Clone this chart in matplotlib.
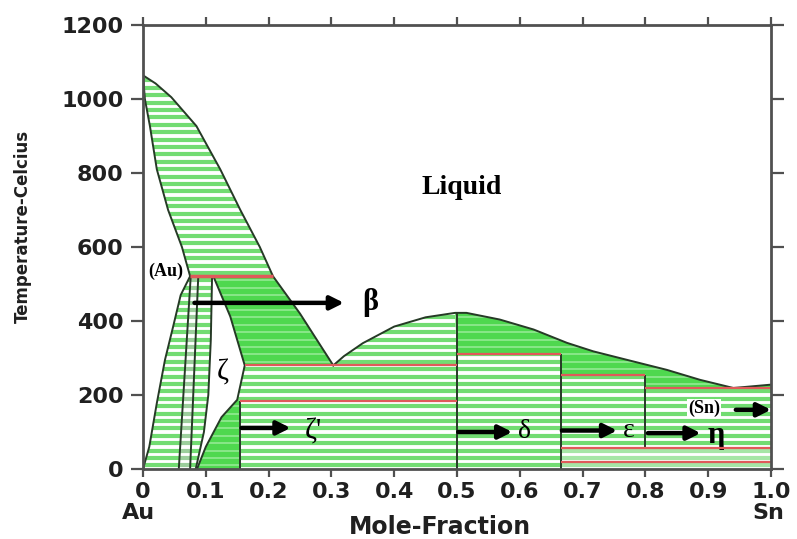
import numpy as np
import matplotlib
matplotlib.use('Agg')
import matplotlib.pyplot as plt
from matplotlib.patches import Polygon

# Au-Sn phase diagram (mole fraction Sn vs temperature)
liq_au_x = [0.0, 0.02, 0.045, 0.085, 0.123, 0.155, 0.186, 0.207, 0.25, 0.303]
liq_au_T = [1064, 1042, 1005, 927, 810, 700, 600, 521, 420, 280]

sol_au_x = [0.0, 0.003, 0.011, 0.022, 0.040, 0.062, 0.075]
sol_au_T = [1064, 1000, 927, 810, 700, 600, 521]

solv_au_x = [0.0, 0.010, 0.022, 0.035, 0.048, 0.060, 0.075]
solv_au_T = [0, 60, 178, 295, 385, 470, 521]

beta_l_x = [0.057, 0.076]
beta_r_x = [0.075, 0.088]
beta_T = [0, 521]

zeta_l_x = [0.084, 0.097, 0.104, 0.108, 0.110]
zeta_l_T = [0, 100, 200, 350, 521]

zeta_r_x = [0.086, 0.100, 0.125, 0.150, 0.162, 0.139, 0.112]
zeta_r_T = [0, 60, 140, 187, 280, 412, 521]

liq_sn_x = [0.303, 0.32, 0.35, 0.40, 0.45, 0.497, 0.515, 0.568, 0.622,
            0.675, 0.717, 0.78, 0.834, 0.887, 0.94, 0.967, 1.0]
liq_sn_T = [280, 305, 340, 385, 410, 422, 422, 404, 377,
            341, 318, 291, 268, 241, 219, 223, 228]

x_zp = 0.155      # zeta' line
x_delta = 0.5
x_eps = 0.665
x_eta = 0.8
T_peri_beta = 521
T_eut = 280
T_zp = 185
T_peri_eps = 312
T_peri_eta = 255
T_eut_sn = 219
T_low1 = 57
T_low2 = 20

xticks = [0, 0.1, 0.2, 0.3, 0.4, 0.5, 0.6, 0.7, 0.8, 0.9, 1.0]
xticklabels = ['0', '0.1', '0.2', '0.3', '0.4', '0.5', '0.6', '0.7', '0.8', '0.9', '1.0']
yticks = [0, 200, 400, 600, 800, 1000, 1200]

HATCH = '#72dc72'
SOLID = '#4fd84f'
SOLID_LINE = '#93ea93'
LINE = '#263a26'
RED = '#e05a5a'

fig = plt.figure(figsize=(7.97, 5.39), dpi=100)
ax = fig.add_axes([143/797, 1-469/539, 628/797, 444/539])
ax.set_xlim(0, 1)
ax.set_ylim(0, 1200)


def region(xs, ys, face, stripe, lw, step=20):
    pts = np.column_stack([xs, ys])
    poly = Polygon(pts, closed=True, facecolor=face, edgecolor='none', zorder=1)
    ax.add_patch(poly)
    lev = np.arange(step / 2, 1200, step)
    hl = ax.hlines(lev, min(xs), max(xs), colors=stripe, lw=lw, zorder=1.5)
    hl.set_clip_path(poly)


def hatched(xs, ys, color=HATCH):
    region(xs, ys, 'white', color, 3.0)


def solid(xs, ys):
    region(xs, ys, SOLID, SOLID_LINE, 1.2)


n_up = 8  # liquidus points down to the beta peritectic
# L + (Au)
hatched(liq_au_x[:n_up] + sol_au_x[::-1], liq_au_T[:n_up] + sol_au_T[::-1])
# (Au) + beta
hatched(solv_au_x + beta_l_x[::-1], solv_au_T + beta_T[::-1])
# beta
hatched(beta_l_x + beta_r_x[::-1], beta_T + beta_T[::-1], '#9ccf9c')
# beta + zeta
hatched(beta_r_x + zeta_l_x[::-1], beta_T + zeta_l_T[::-1])
# L + zeta
solid(zeta_r_x[4:] + liq_au_x[n_up - 1:], zeta_r_T[4:] + liq_au_T[n_up - 1:])
# zeta + zeta'
solid(zeta_r_x[:4] + [x_zp, x_zp], zeta_r_T[:4] + [T_zp + 2, 0])
# zeta + delta
hatched(zeta_r_x[3:5] + [x_delta, x_delta, x_zp], zeta_r_T[3:5] + [T_eut, T_zp, T_zp])
# zeta' + delta
hatched([x_zp, x_delta, x_delta, x_zp], [0, 0, T_zp, T_zp])
# L + delta (Au side)
hatched(liq_sn_x[:6] + [x_delta], liq_sn_T[:6] + [T_eut])
# L + delta / epsilon / eta (Sn side)
solid(liq_sn_x[5:] + [1.0, x_eta, x_eta, x_eps, x_eps, x_delta],
      liq_sn_T[5:] + [T_eut_sn, T_eut_sn, T_peri_eta, T_peri_eta, T_peri_eps, T_peri_eps])
# delta + epsilon
hatched([x_delta, x_eps, x_eps, x_delta], [0, 0, T_peri_eps, T_peri_eps])
# epsilon + eta
hatched([x_eps, x_eta, x_eta, x_eps], [T_low1, T_low1, T_peri_eta, T_peri_eta])
# eta + (Sn)
hatched([x_eta, 1.0, 1.0, x_eta], [T_low1, T_low1, T_eut_sn, T_eut_sn])
# low temperature band
hatched([x_eps, 1.0, 1.0, x_eps], [0, 0, T_low1, T_low1], '#a6e6a6')

# phase boundaries
kw = dict(color=LINE, lw=1.4, zorder=3)
ax.plot(liq_au_x, liq_au_T, **kw)
ax.plot(sol_au_x, sol_au_T, **kw)
ax.plot(solv_au_x, solv_au_T, **kw)
ax.plot(beta_l_x, beta_T, **kw)
ax.plot(beta_r_x, beta_T, **kw)
ax.plot(zeta_l_x, zeta_l_T, **kw)
ax.plot(zeta_r_x, zeta_r_T, **kw)
ax.plot(liq_sn_x, liq_sn_T, **kw)
ax.vlines([x_zp], 0, T_zp, **kw)
ax.vlines([x_delta], 0, 422, **kw)
ax.vlines([x_eps], 0, T_peri_eps, **kw)
ax.vlines([x_eta], T_low1, T_peri_eta, **kw)

# invariant lines
rkw = dict(colors=RED, lw=1.6, zorder=3.5)
ax.hlines(T_peri_beta, 0.075, 0.207, lw=2.5, colors=RED, zorder=3.5)
ax.hlines(T_eut, 0.162, x_delta, **rkw)
ax.hlines(T_zp, x_zp, x_delta, **rkw)
ax.hlines(T_peri_eps, x_delta, x_eps, **rkw)
ax.hlines(T_peri_eta, x_eps, x_eta, **rkw)
ax.hlines(T_eut_sn, x_eta, 1.0, **rkw)
ax.hlines([T_low1, T_low2], x_eps, 1.0, **rkw)

# phase labels and arrows
serif = 'Liberation Serif'
akw = dict(arrowstyle='-|>', mutation_scale=20, lw=3.2, color='black',
           shrinkA=0, shrinkB=0)


def arrow(x0, x1, T):
    ax.annotate('', xy=(x1, T), xytext=(x0, T), arrowprops=akw, zorder=5)


arrow(0.082, 0.32, 449)
ax.text(0.362, 449, 'β', family=serif, fontsize=22, fontweight='bold', va='center', ha='center')
arrow(0.157, 0.235, 111)
ax.text(0.272, 100, "ζ'", family=serif, fontsize=21, va='center', ha='center')
arrow(0.502, 0.588, 100)
ax.text(0.607, 100, 'δ', family=serif, fontsize=20, va='center', ha='center')
arrow(0.667, 0.755, 104)
ax.text(0.773, 104, 'ε', family=serif, fontsize=20, va='center', ha='center')
arrow(0.804, 0.888, 97)
ax.text(0.912, 90, 'η', family=serif, fontsize=22, fontweight='bold', va='center', ha='center')
arrow(0.944, 1.0, 160)
ax.text(0.893, 163, '(Sn)', family=serif, fontsize=13, fontweight='bold', va='center', ha='center',
        bbox=dict(facecolor='white', edgecolor='none', pad=0.5), zorder=5)
ax.text(0.127, 262, 'ζ', family=serif, fontsize=21, va='center', ha='center')
ax.text(0.036, 533, '(Au)', family=serif, fontsize=13, fontweight='bold', va='center', ha='center',
        bbox=dict(facecolor='white', edgecolor='none', pad=0.5), zorder=6, clip_on=False)
ax.text(0.507, 762, 'Liquid', family=serif, fontsize=20, fontweight='bold', va='center', ha='center')

# axes styling
for s in ax.spines.values():
    s.set_color('#505050')
    s.set_linewidth(2.0)
    s.set_zorder(4)

ax.set_xticks(xticks)
ax.set_xticklabels(xticklabels)
ax.set_yticks(yticks)
ax.tick_params(axis='both', direction='out', color='#505050', width=1.6,
               labelsize=16, top=True, right=True)
ax.tick_params(axis='x', length=6, pad=3)
ax.tick_params(axis='y', length=9, pad=5)
for lab in ax.get_xticklabels() + ax.get_yticklabels():
    lab.set_fontweight('bold')
    lab.set_color('#202020')

ax.text(-0.008, -120, 'Au', fontsize=16, fontweight='bold', color='#202020',
        ha='center', va='center', clip_on=False)
ax.text(0.995, -120, 'Sn', fontsize=16, fontweight='bold', color='#202020',
        ha='center', va='center', clip_on=False)
fig.text(440/797, 1-527/539, 'Mole-Fraction', fontsize=17, fontweight='bold',
         color='#202020', ha='center', va='center')
fig.text(23/797, 1-226/539, 'Temperature-Celcius', fontsize=12, fontweight='bold',
         color='#202020', ha='center', va='center', rotation=90)

fig.savefig('out.png', dpi=100)
